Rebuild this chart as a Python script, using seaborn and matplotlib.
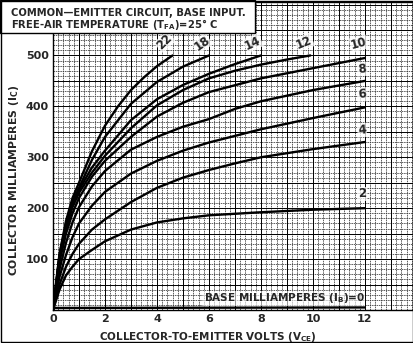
import matplotlib
matplotlib.use("Agg")
import matplotlib.pyplot as plt
from matplotlib.patches import Rectangle
import seaborn as sns
import pandas as pd

# collector curves: base mA -> (volts, collector mA)
ib_labels = ["22", "18", "14", "12", "10", "8", "6", "4", "2"]
vce_22 = [0, 0.25, 0.5, 0.75, 1, 1.5, 2, 2.5, 3, 3.5, 4, 4.6]
ic_22 = [0, 110, 175, 220, 250, 312, 362, 400, 432, 457, 479, 500]
vce_18 = [0, 0.25, 0.5, 0.75, 1, 1.5, 2, 3, 4, 5, 6]
ic_18 = [0, 108, 170, 212, 240, 295, 340, 405, 448, 478, 500]
vce_14 = [0, 0.25, 0.5, 0.75, 1, 1.5, 2, 3, 4, 5, 6, 7, 8]
ic_14 = [0, 105, 165, 207, 236, 280, 313, 373, 414, 442, 464, 483, 500]
vce_12 = [0, 0.25, 0.5, 0.75, 1, 1.5, 2, 3, 4, 5, 6, 7, 8, 9, 9.9]
ic_12 = [0, 102, 160, 202, 230, 270, 303, 357, 402, 432, 455, 470, 482, 492, 500]
vce_10 = [0, 0.25, 0.5, 0.75, 1, 1.5, 2, 3, 4, 5, 6, 8, 10, 12]
ic_10 = [0, 95, 150, 190, 220, 262, 293, 340, 380, 407, 428, 455, 475, 495]
vce_8 = [0, 0.25, 0.5, 0.75, 1, 1.5, 2, 3, 4, 5, 6, 7, 8, 10, 12]
ic_8 = [0, 80, 132, 172, 202, 243, 273, 315, 340, 360, 375, 395, 410, 432, 450]
vce_6 = [0, 0.25, 0.5, 0.75, 1, 1.5, 2, 3, 4, 5, 6, 7, 8, 10, 12]
ic_6 = [0, 65, 108, 143, 170, 205, 232, 268, 293, 313, 329, 342, 355, 377, 398]
vce_4 = [0, 0.25, 0.5, 0.75, 1, 1.5, 2, 3, 4, 5, 6, 7, 8, 10, 12]
ic_4 = [0, 50, 85, 110, 130, 158, 178, 212, 240, 260, 275, 288, 300, 316, 330]
vce_2 = [0, 0.25, 0.5, 0.75, 1, 1.5, 2, 3, 4, 5, 6, 8, 10, 12]
ic_2 = [0, 40, 68, 85, 100, 118, 135, 158, 172, 180, 186, 192, 197, 200]
vce_0 = [0, 12]
ic_0 = [4, 5]

curves = [(vce_22, ic_22), (vce_18, ic_18), (vce_14, ic_14), (vce_12, ic_12),
          (vce_10, ic_10), (vce_8, ic_8), (vce_6, ic_6), (vce_4, ic_4), (vce_2, ic_2)]
# label offsets (pixels) from the curve end and rotation
label_style = {"22": (-8, 3, 45), "18": (-7, 2, 35), "14": (-8, 3, 25), "12": (-6, 4, 22),
               "10": (-6, 6, 15), "8": (-3, 5, 5), "6": (-3, 6, 5), "4": (-3, 5, 5), "2": (-3, 8, 0)}

x_ticks = [0, 2, 4, 6, 8, 10, 12]
y_ticks = [100, 200, 300, 400, 500]

sns.set_style("white")
plt.rcParams["font.family"] = ["DejaVu Sans"]
plt.rcParams["mathtext.default"] = "regular"
plt.rcParams["font.weight"] = "bold"

fig = plt.figure(figsize=(4.14, 3.43), dpi=100)
ax = fig.add_axes([53 / 414, 1 - 310 / 343, 360 / 414, 308 / 343])

frames = []
for lab, (v, i) in zip(ib_labels + ["0"], curves + [(vce_0, ic_0)]):
    frames.append(pd.DataFrame({"vce": v, "ic": i, "ib": lab}))
df = pd.concat(frames, ignore_index=True)
sns.lineplot(data=df, x="vce", y="ic", hue="ib", palette=["black"] * 10,
             sort=False, estimator=None, linewidth=1.7, legend=False, ax=ax, zorder=5)

for lab, (v, i) in zip(ib_labels, curves):
    dx, dy, rot = label_style[lab]
    ax.annotate(lab, (v[-1], i[-1]), xytext=(dx, dy), textcoords="offset pixels",
                ha="center", va="bottom", rotation=rot, fontsize=8.5, fontweight="bold", zorder=6,
                bbox=dict(facecolor="white", edgecolor="none", pad=0.4, alpha=0.75))

ax.annotate("BASE MILLIAMPERES (I$_B$)=0", (vce_0[-1], ic_0[-1]), xytext=(0, 2),
            textcoords="offset pixels", ha="right", va="bottom", fontsize=7.5, zorder=6,
            fontweight="bold", bbox=dict(facecolor="white", edgecolor="none", pad=0.3, alpha=0.6))

ax.set_xlim(0, 13.85)
ax.set_ylim(0, 605)
ax.set_xticks(x_ticks)
ax.set_yticks(y_ticks)
ax.set_xticks([k * 0.2 for k in range(70)], minor=True)
ax.set_yticks([k * 10 for k in range(61)], minor=True)
ax.tick_params(which="both", length=0, labelsize=8, pad=3)

for xv in range(14):
    ax.axvline(xv, color="black", lw=0.7, zorder=2)
for yv in range(0, 601, 50):
    ax.axhline(yv, color="black", lw=0.7, zorder=2)
ax.grid(which="minor", color="#333333", lw=0.55, linestyle=(0, (2, 1)))
ax.set_axisbelow(True)

for s in ax.spines.values():
    s.set_color("black")
    s.set_linewidth(1.0)

ax.set_xlabel("COLLECTOR-TO-EMITTER VOLTS (V$_{CE}$)", fontsize=7.5, fontweight="bold")
ax.set_ylabel("COLLECTOR MILLIAMPERES (I$_C$)", fontsize=7.8, fontweight="bold")
ax.xaxis.set_label_coords(0.43, -0.065)
ax.yaxis.set_label_coords(-0.09, 0.42)

fig.patches.append(Rectangle((0, 1 - 33 / 343), 255 / 414, 33 / 343, transform=fig.transFigure,
                             facecolor="white", edgecolor="black", lw=1.0, zorder=10))
fig.text(11 / 414, 1 - 16 / 343, "COMMON\u2014EMITTER CIRCUIT, BASE INPUT.", fontsize=7.2,
         ha="left", va="baseline", zorder=11)
fig.text(11 / 414, 1 - 28 / 343, "FREE-AIR TEMPERATURE (T$_{FA}$)=25\u00b0 C", fontsize=7.2,
         ha="left", va="baseline", zorder=11)
fig.patches.append(Rectangle((0.003, 0.003), 0.994, 0.994, transform=fig.transFigure,
                             facecolor="none", edgecolor="black", lw=1.0, zorder=12))

fig.savefig("out.png", dpi=100)
